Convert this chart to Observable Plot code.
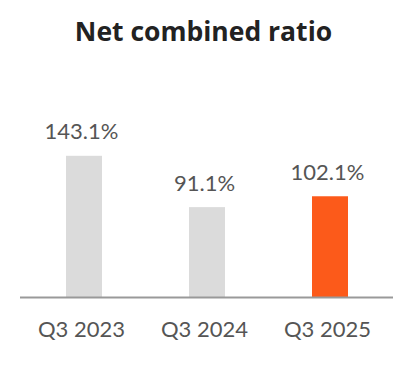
<!DOCTYPE html>
<html>
<head>
<meta charset="utf-8">
<script src="https://cdn.jsdelivr.net/npm/d3@7"></script>
<script src="https://cdn.jsdelivr.net/npm/@observablehq/plot@0.6"></script>
<style>
  html, body { margin: 0; padding: 0; background: #fff; }
  #wrap { width: 412px; height: 384px; overflow: hidden; }
  #title {
    font-family: "Open Sans", sans-serif; font-weight: 700; font-size: 26.5px;
    line-height: 36px; height: 36px; padding-top: 13px; padding-right: 5px;
    text-align: center; color: #222;
  }
  svg { display: block; }
</style>
</head>
<body>
<div id="wrap">
  <div id="title">Net combined ratio</div>
  <div id="chart"></div>
</div>
<script>
const categories = ["Q3 2023", "Q3 2024", "Q3 2025"];
const values = [143.1, 91.1, 102.1];
const highlighted = "Q3 2025";

const data = categories.map((c, i) => ({category: c, value: values[i]}));

const chart = Plot.plot({
  width: 412,
  height: 335,
  marginTop: 100,
  marginBottom: 87,
  marginLeft: 20,
  marginRight: 19,
  style: {fontFamily: "Lato, sans-serif", fontSize: "22px", color: "#555", background: "#fff"},
  x: {domain: categories, paddingInner: 0.71, paddingOuter: 0.36, label: null},
  y: {domain: [0, 150], axis: null},
  marks: [
    Plot.barY(data, {
      x: "category", y: "value",
      fill: d => d.category === highlighted ? "#fc5a1a" : "#dbdbdb"
    }),
    Plot.ruleY([0], {stroke: "#999", strokeWidth: 2}),
    Plot.text(data, {
      x: "category", y: "value",
      text: d => d.value.toFixed(1) + "%",
      lineAnchor: "bottom", dy: -17, dx: -3,
      fontSize: 22, fill: "#555"
    }),
    Plot.axisX({tickSize: 0, tickPadding: 24, dx: -3, fontSize: 22, fill: "#555", label: null})
  ]
});
document.getElementById("chart").appendChild(chart);
</script>
</body>
</html>
